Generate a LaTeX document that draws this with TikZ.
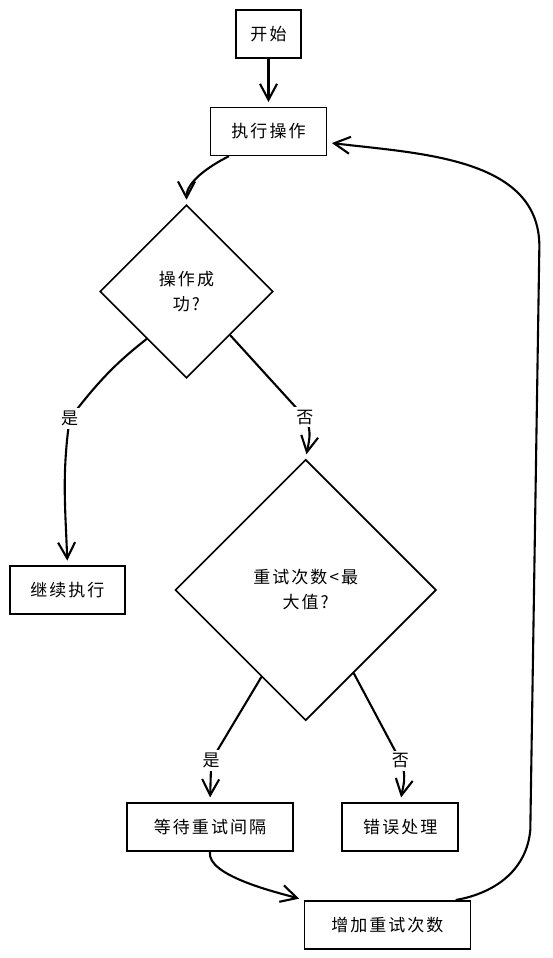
\documentclass[tikz,border=0pt]{standalone}
\usepackage{fontspec}
\setmainfont{Noto Sans CJK SC}[LetterSpace=12]
\usepackage{tikz}
\usetikzlibrary{arrows.meta,shapes.geometric}

\begin{document}
\begin{tikzpicture}[
    x=1pt, y=1pt,
    every node/.style={
        font=\fontsize{17}{25}\selectfont,
        inner sep=0pt
    },
    box/.style={
        rectangle,
        draw,
        line width=1.8pt,
        minimum height=48pt
    },
    decision/.style={
        diamond,
        draw,
        line width=1.6pt,
        align=center
    },
    lbl/.style={fill=white, inner sep=3pt},
    arr/.style={
        draw,
        line width=2.1pt,
        line cap=round,
        shorten >=4.5pt,
        -{Straight Barb[length=16pt,width=17pt]}
    }
]
\path[fill=white, use as bounding box] (0,0) rectangle (553,958);

\node[box, minimum width=65pt]  (start) at (268.5,924.3) {开始};
\node[box, minimum width=116pt] (exec)  at (268.5,826.5) {执行操作};
\node[decision, minimum width=173pt, minimum height=173pt] (succ)  at (186.5,666.5) {操作成\\功?};
\node[decision, minimum width=261pt, minimum height=261pt] (retry) at (305.7,368) {重试次数<最\\大值?};
\node[box, minimum width=115pt] (cont) at (67.4,368)   {继续执行};
\node[box, minimum width=166pt] (wait) at (210,131.2)  {等待重试间隔};
\node[box, minimum width=116pt] (err)  at (400.3,131.2) {错误处理};
\node[box, minimum width=166pt] (incr) at (387.4,33.2) {增加重试次数};

\draw[arr] (start) -- (exec);
\draw[arr] ([xshift=-40pt]exec.south) to[out=207,in=90,looseness=0.9] (succ.north);
\draw[arr] (succ.230) to[out=218,in=52] ++(-77,-79.5) node[lbl] (yes1) {是}
    to[out=262,in=92] (cont.north);
\draw[arr] (succ.-45) -- ++(74.6,-82) node[lbl] (no1) {否}
    to[out=-60,in=80] (retry.north);
\draw[arr] (retry.243) -- ++(-50.2,-83.8) node[lbl] (yes2) {是} -- (wait.north);
\draw[arr] (retry.-60) -- ++(46.7,-87.6) node[lbl] (no2) {否}
    to[out=-65,in=80] (err.north);
\draw[arr] (wait.south) to[out=-100,in=164,looseness=0.6] (incr.north west);
\draw[arr] ([xshift=-15pt]incr.north east) to[out=10,in=-95] ++(74,70)
    -- ++(9,580) to[out=88,in=-7] ([yshift=-11pt]exec.east);
\end{tikzpicture}
\end{document}
